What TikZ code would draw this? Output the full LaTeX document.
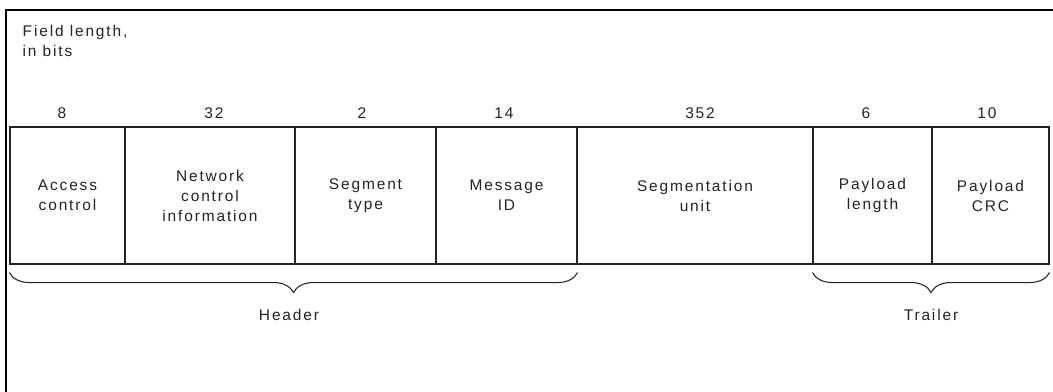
\documentclass[tikz,border=0pt]{standalone}
\usepackage{fontspec}
\setmainfont[LetterSpace=12]{Liberation Sans}
\usepackage{xcolor}
\usepackage{tikz}
\usetikzlibrary{positioning,calc,decorations.pathreplacing}
\definecolor{inkgray}{RGB}{35,35,35}

\begin{document}
\begin{tikzpicture}[
  x=0.75pt, y=-0.75pt,
  every node/.style={font=\fontsize{11.6}{15}\selectfont, text=inkgray},
  field/.style={draw=inkgray, line width=0.8pt, minimum height=102.75pt,
                align=center, inner sep=0pt},
  num/.style={inner sep=1pt},
  brc/.style={decorate, decoration={brace, mirror, amplitude=15pt}, draw=inkgray, line width=0.8pt},
]
\useasboundingbox (0,0) rectangle (1053,392);
% frame
\draw[line width=1.6pt, black] (1053,10) -- (6,10) -- (6,392);
\node[anchor=north west, align=left] (title) at (18,21) {Field length,\\in bits};
% fields
\node[field, minimum width=86.25pt]  (fac)  at (67.5,195.5)  {Access\\control};
\node[field, minimum width=127.5pt]  (fnc)  at (210,195.5)   {Network\\control\\information};
\node[field, minimum width=105.75pt] (fst)  at (365.5,195.5) {Segment\\type};
\node[field, minimum width=105.75pt] (fmid) at (506.5,195.5) {Message\\ID};
\node[field, minimum width=177pt]    (fsu)  at (695,195.5)   {Segmentation\\unit};
\node[field, minimum width=89.25pt]  (fpl)  at (872.5,195.5) {Payload\\length};
\node[field, minimum width=87.75pt]  (fcrc) at (990.5,195.5) {Payload\\CRC};
% lengths
\node[num] (nac)  at (62,113)    {8};
\node[num] (nnc)  at (214,113)   {32};
\node[num] (nst)  at (362,113)   {2};
\node[num] (nmid) at (504,113)   {14};
\node[num] (nsu)  at (700,113)   {352};
\node[num] (npl)  at (866,113)   {6};
\node[num] (ncrc) at (987,113)   {10};
% braces
\draw[brc] ($(fac.south west)+(0,8)$) -- ($(fmid.south east)+(0,8)$);
\draw[brc] ($(fpl.south west)+(0,8)$) -- ($(fcrc.south east)+(0,8)$);
\node (hdr) at (289,315) {Header};
\node (trl) at (931,315) {Trailer};
\end{tikzpicture}
\end{document}
